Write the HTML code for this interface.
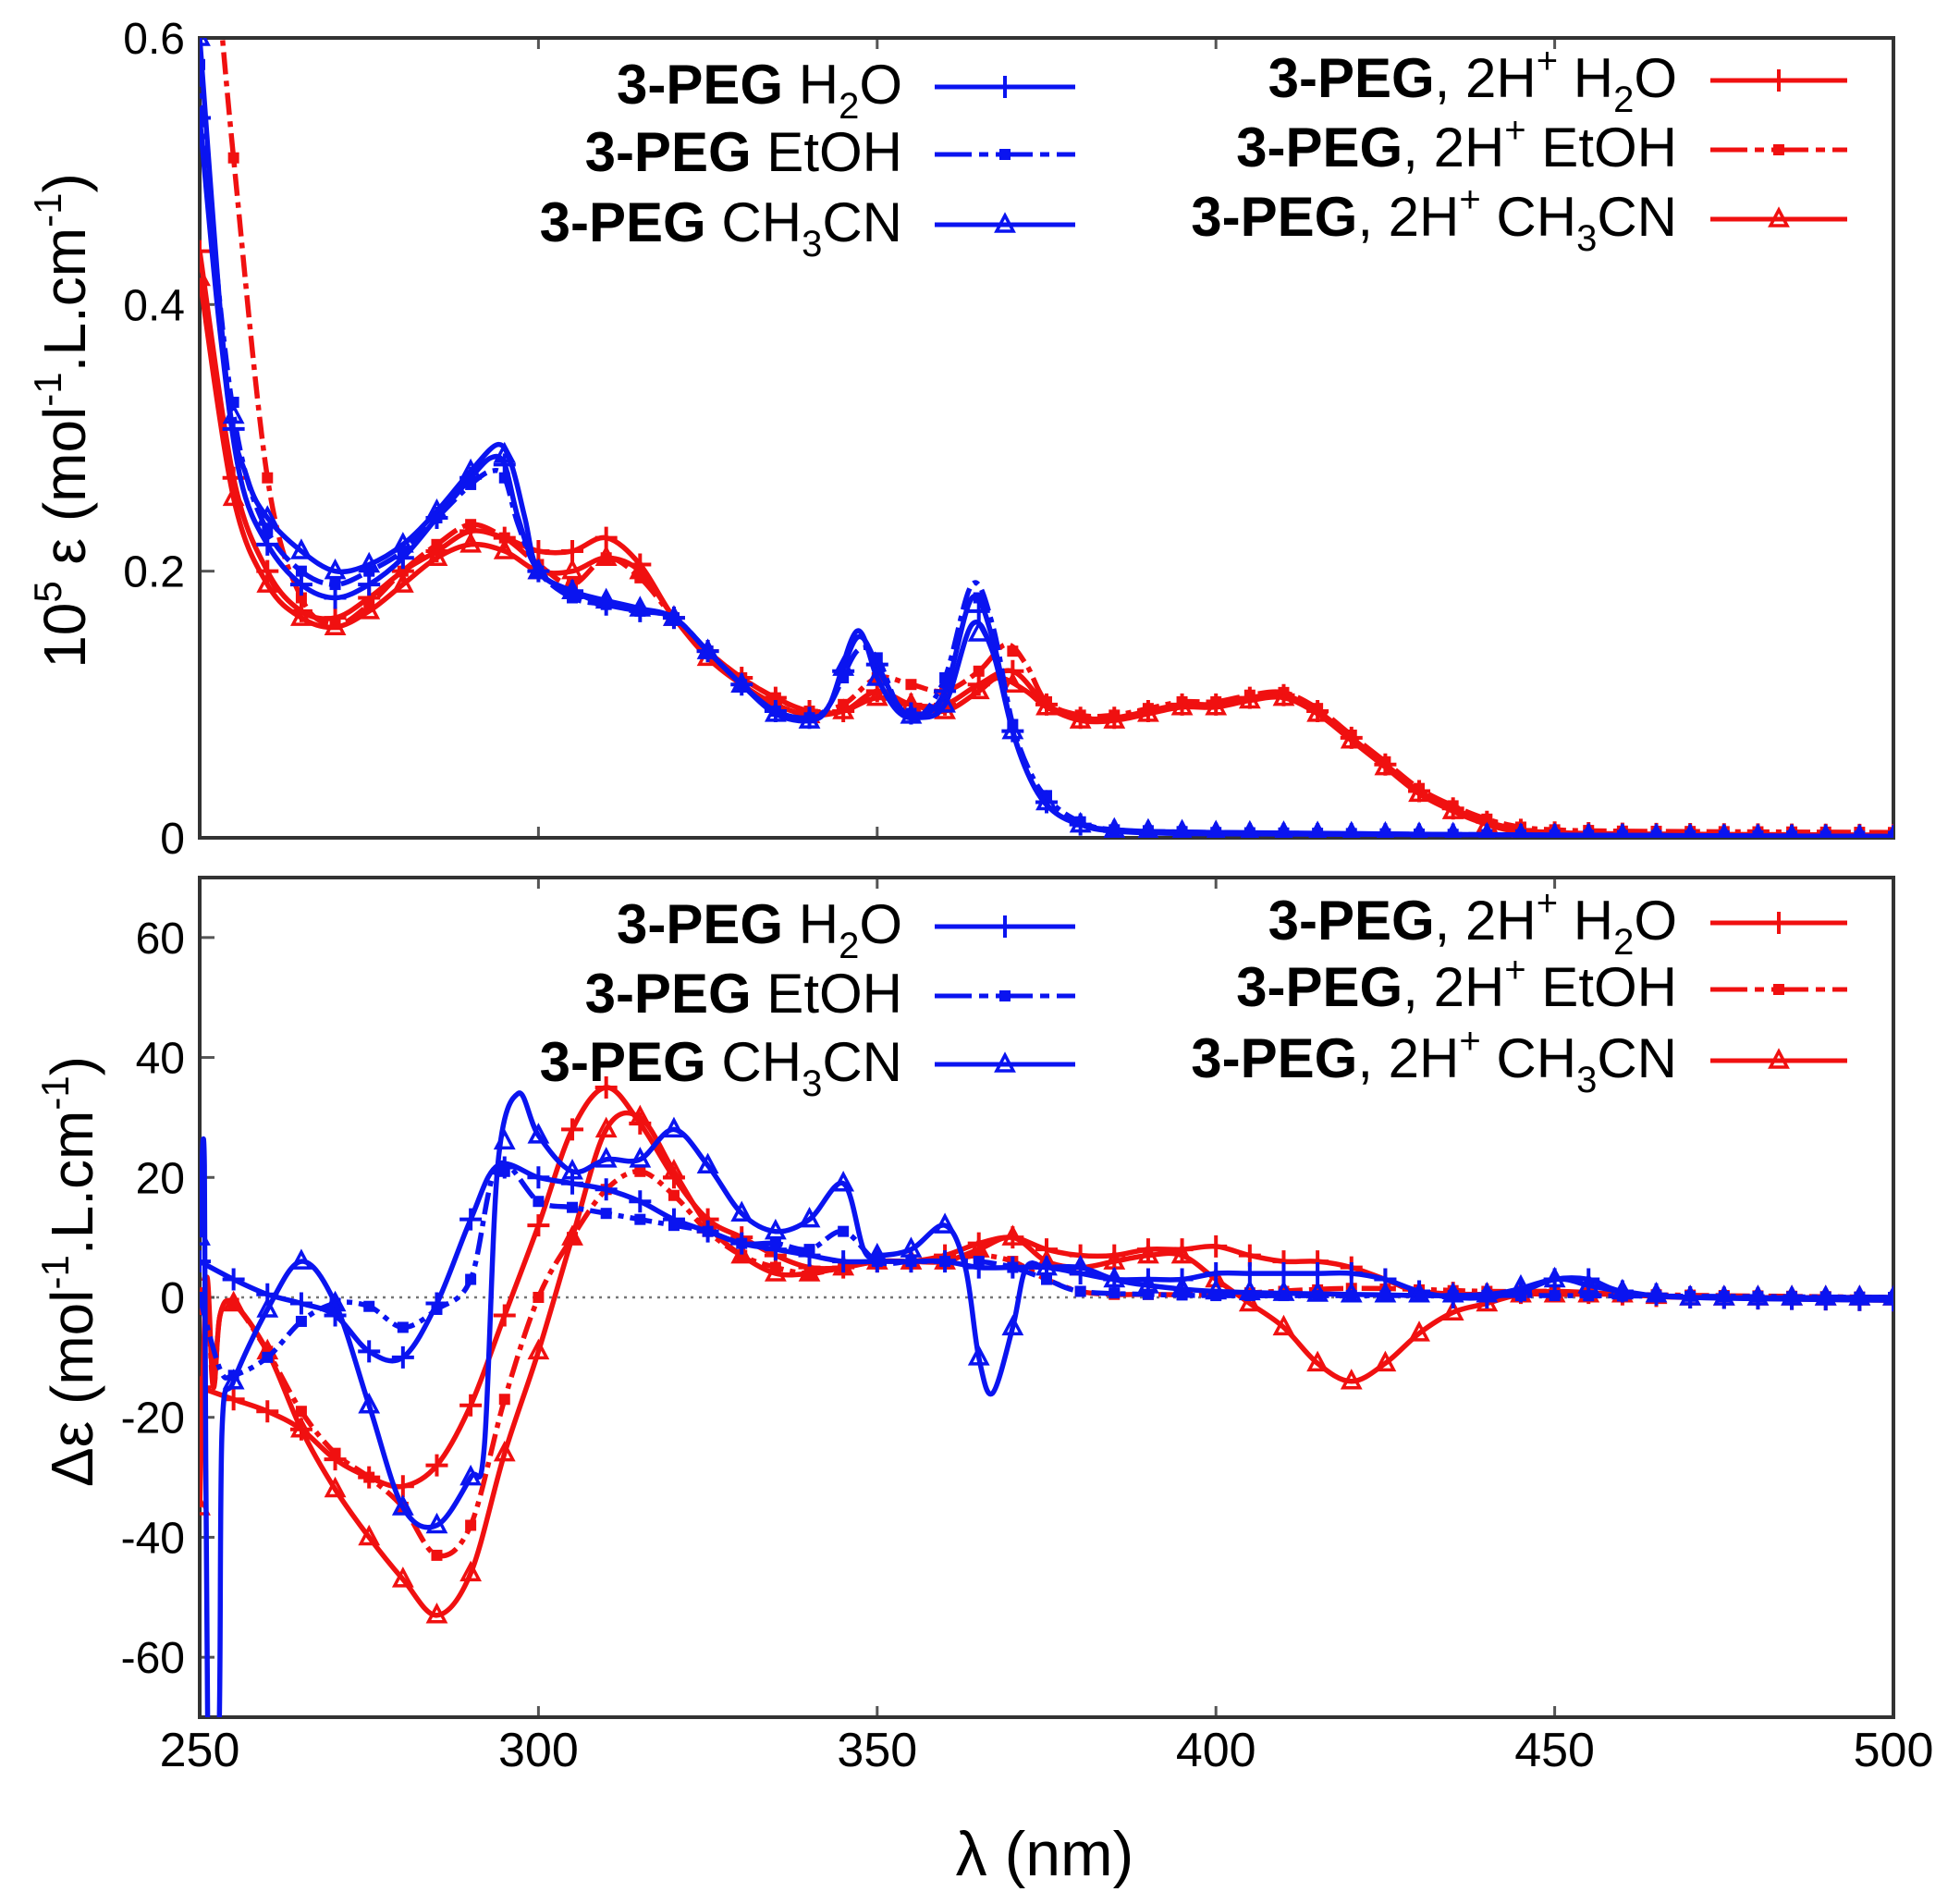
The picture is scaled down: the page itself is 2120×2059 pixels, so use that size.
<!DOCTYPE html>
<html><head><meta charset="utf-8"><style>
html,body{margin:0;padding:0;background:#fff}
svg{display:block}
text{font-family:"Liberation Sans",sans-serif;fill:#000}
</style></head><body>
<svg id="s" width="2120" height="2059" viewBox="0 0 2120 2059" xmlns="http://www.w3.org/2000/svg">
<defs>
<clipPath id="c1"><rect x="216" y="41" width="1832" height="865"/></clipPath>
<clipPath id="c2"><rect x="216" y="949" width="1832" height="908"/></clipPath>
</defs>
<g id="axes"></g>
<g id="series"></g>
<g id="legend" font-size="60"></g>
<text x="1130" y="2028" font-size="68" text-anchor="middle">λ  (nm)</text>
<text transform="translate(92,455) rotate(-90)" font-size="64" text-anchor="middle">10<tspan font-size="42" dy="-26">5</tspan><tspan dy="26"> ε (mol</tspan><tspan font-size="42" dy="-26">-1</tspan><tspan dy="26">.L.cm</tspan><tspan font-size="42" dy="-26">-1</tspan><tspan dy="26">)</tspan></text>
<text transform="translate(100,1375) rotate(-90)" font-size="64" text-anchor="middle">Δε (mol<tspan font-size="42" dy="-26">-1</tspan><tspan dy="26">.L.cm</tspan><tspan font-size="42" dy="-26">-1</tspan><tspan dy="26">)</tspan></text>
</svg>
<script>
const NS="http://www.w3.org/2000/svg";
function el(p,t,a,txt){const e=document.createElementNS(NS,t);for(const k in a)e.setAttribute(k,a[k]);if(txt!==undefined)e.textContent=txt;p.appendChild(e);return e;}
const X=l=>216+(l-250)*7.328;
const Y1=v=>906-v*1441.7;
const Y2=v=>1403-v*6.486;
const ax=document.getElementById('axes');
[[41,906],[949,1857]].forEach(([t,b])=>{
 for(let l=300;l<500;l+=50){el(ax,'line',{x1:X(l),x2:X(l),y1:b,y2:b-12,stroke:'#555','stroke-width':3});el(ax,'line',{x1:X(l),x2:X(l),y1:t,y2:t+12,stroke:'#555','stroke-width':3});}
});
[[0,'0'],[0.2,'0.2'],[0.4,'0.4'],[0.6,'0.6']].forEach(([v,s])=>{const y=Y1(v);el(ax,'line',{x1:216,x2:232,y1:y,y2:y,stroke:'#555','stroke-width':3});el(ax,'text',{x:200,y:y+17,'font-size':48,'text-anchor':'end'},s);});
[[60,'60'],[40,'40'],[20,'20'],[0,'0'],[-20,'-20'],[-40,'-40'],[-60,'-60']].forEach(([v,s])=>{const y=Y2(v);el(ax,'line',{x1:216,x2:232,y1:y,y2:y,stroke:'#555','stroke-width':3});el(ax,'text',{x:200,y:y+17,'font-size':48,'text-anchor':'end'},s);});
for(let l=250;l<=500;l+=50)el(ax,'text',{x:X(l),y:1910,'font-size':52,'text-anchor':'middle'},String(l));
el(ax,'line',{x1:216,x2:2048,y1:Y1(0),y2:Y1(0),stroke:'#333','stroke-width':3,'stroke-dasharray':'3,3'});
el(ax,'line',{x1:216,x2:2048,y1:Y2(0),y2:Y2(0),stroke:'#777','stroke-width':2.5,'stroke-dasharray':'3,6'});
el(ax,'rect',{x:216,y:41,width:1832,height:865,fill:'none',stroke:'#333','stroke-width':4});
el(ax,'rect',{x:216,y:949,width:1832,height:908,fill:'none',stroke:'#333','stroke-width':4});

const T={
bH:[[250,0.54],[253,0.38],[256,0.27],[260,0.22],[265,0.19],[270,0.18],[275,0.19],[280,0.21],[285,0.24],[290,0.27],[293,0.285],[295,0.28],[297,0.24],[300,0.2],[305,0.185],[310,0.175],[315,0.17],[320,0.165],[325,0.14],[330,0.115],[335,0.095],[340,0.09],[343,0.1],[347,0.15],[350,0.13],[353,0.1],[356,0.09],[360,0.11],[364,0.18],[367,0.15],[370,0.08],[373,0.04],[376,0.02],[380,0.01],[385,0.005],[400,0.003],[450,0.002],[500,0.001]],
bE:[[250,0.58],[253,0.4],[256,0.29],[260,0.23],[265,0.2],[270,0.19],[275,0.2],[280,0.215],[285,0.24],[290,0.265],[293,0.275],[295,0.27],[297,0.235],[300,0.2],[305,0.18],[310,0.175],[315,0.17],[320,0.165],[325,0.14],[330,0.115],[335,0.095],[340,0.09],[343,0.1],[347,0.14],[350,0.135],[353,0.1],[356,0.09],[360,0.12],[364,0.19],[367,0.16],[370,0.085],[373,0.045],[376,0.025],[380,0.012],[385,0.006],[400,0.004],[450,0.002],[500,0.001]],
bC:[[250,0.6],[254,0.34],[257,0.27],[260,0.24],[265,0.215],[270,0.2],[275,0.205],[280,0.22],[285,0.245],[290,0.275],[294,0.295],[296,0.28],[298,0.24],[300,0.2],[305,0.185],[310,0.178],[315,0.172],[320,0.165],[325,0.14],[330,0.115],[335,0.093],[340,0.088],[343,0.1],[347,0.155],[350,0.12],[353,0.095],[356,0.09],[360,0.1],[364,0.16],[367,0.14],[370,0.08],[373,0.04],[376,0.02],[380,0.01],[385,0.006],[400,0.004],[450,0.002],[500,0.001]]
};
const rTail=[[375,0.1],[380,0.09],[385,0.09],[390,0.095],[395,0.1],[400,0.1],[405,0.105],[410,0.107],[415,0.095],[420,0.075],[425,0.055],[430,0.035],[435,0.022],[440,0.012],[445,0.006],[450,0.004],[460,0.003],[500,0.002]];
T.rH=[[250,0.44],[255,0.27],[260,0.2],[265,0.17],[270,0.165],[275,0.18],[280,0.2],[285,0.215],[290,0.23],[295,0.225],[300,0.215],[305,0.215],[310,0.225],[315,0.205],[320,0.165],[325,0.14],[330,0.12],[335,0.105],[340,0.095],[345,0.095],[350,0.11],[355,0.1],[360,0.1],[365,0.115],[370,0.125]].concat(rTail);
T.rE=[[252.5,0.65],[255,0.51],[260,0.27],[265,0.18],[270,0.16],[275,0.175],[280,0.2],[285,0.22],[290,0.235],[295,0.225],[300,0.205],[305,0.19],[310,0.21],[315,0.195],[320,0.165],[325,0.14],[330,0.12],[335,0.105],[340,0.095],[345,0.1],[350,0.12],[355,0.115],[360,0.11],[365,0.125],[369,0.145],[372,0.13]].concat(rTail.map(p=>[p[0],p[1]+0.002]));
T.rC=[[250,0.42],[255,0.255],[260,0.19],[265,0.165],[270,0.158],[275,0.17],[280,0.19],[285,0.21],[290,0.22],[295,0.215],[300,0.2],[305,0.2],[310,0.21],[315,0.2],[320,0.165],[325,0.135],[330,0.115],[335,0.1],[340,0.092],[345,0.095],[350,0.105],[355,0.1],[360,0.095],[365,0.11],[368,0.12],[372,0.11]].concat(rTail.map(p=>[p[0],p[1]-0.002]));
const B={
bH:[[250,6],[255,3],[260,0.5],[265,-1],[270,-3],[275,-9],[280,-10],[285,-1],[290,13],[294,22],[300,20],[305,19],[310,18],[315,16],[320,13],[325,11],[330,9],[335,8],[340,7],[345,6],[350,6],[355,6],[360,6],[365,5],[370,5],[375,5],[380,4],[385,3],[390,3],[395,3],[400,4],[405,4],[410,4],[415,4],[420,4],[425,3],[430,1],[435,0],[440,0],[445,1],[450,3],[455,3],[460,1],[470,0],[500,-0.5]],
bE:[[250,0],[253,-12],[255,-13],[260,-10],[265,-4],[270,-1],[275,-1.5],[280,-5],[285,-2],[290,3],[294,22],[300,16],[305,15],[310,14],[315,13],[320,12],[325,11],[330,9],[335,9],[340,8],[345,11],[350,6],[355,6],[360,6],[365,6],[370,5],[375,3],[380,1],[390,0.5],[400,0.3],[420,0.3],[450,0.3],[500,0]],
bC:[[250,10],[250.7,22],[251.2,-75],[252.8,-75],[253.3,-22],[255,-14],[260,-2],[265,6],[270,-1],[275,-18],[280,-35],[285,-38],[290,-30],[292,-25],[294,22],[297,34],[300,27],[305,21],[310,23],[315,23],[320,28],[325,22],[330,14],[335,11],[340,13],[345,19],[348,8],[350,7],[355,8],[360,12],[363,5],[365,-10],[367,-16],[370,-5],[372,5],[375,5],[380,5],[385,3],[390,2],[400,1],[420,0.5],[440,0.5],[450,3],[455,2],[460,1],[470,0],[500,0]],
rH:[[250,-15],[255,-17],[260,-19],[265,-22],[270,-27],[275,-30],[280,-31.5],[285,-28],[290,-18],[295,-3],[300,12],[305,28],[310,35],[315,29],[320,20],[325,13],[330,10],[335,7],[340,5],[345,5],[350,6],[355,6],[360,7],[365,9],[370,10],[375,8],[380,7],[385,7],[390,8],[395,8],[400,8.5],[405,7],[410,6],[415,6],[420,5],[425,3],[430,1],[440,0.5],[450,1],[460,0.5],[470,0],[500,-0.5]],
rE:[[250,-2],[251,3],[252,-15],[253,-3],[255,-1],[260,-9],[265,-19],[270,-26],[275,-30],[280,-35],[285,-43],[290,-38],[295,-17],[300,0],[305,10],[310,18],[315,21],[320,17],[325,11],[330,7],[335,5],[340,4],[345,5],[350,6],[355,6],[360,6],[365,7],[370,6],[375,3],[380,1],[385,0.5],[390,0.5],[400,0.5],[420,1.5],[440,1],[450,1],[460,0.5],[500,0]],
rC:[[250,-35],[251,3],[252,-15],[253,-3],[255,-1],[260,-9],[265,-22],[270,-32],[275,-40],[280,-47],[285,-53],[290,-46],[295,-26],[300,-9],[305,10],[310,28],[315,30],[320,21],[325,12],[330,7],[335,4],[340,4],[345,5],[350,6],[355,6],[360,6],[365,8],[370,10],[375,6],[380,5],[385,6],[390,7],[395,7],[400,3],[405,-1],[410,-5],[415,-11],[420,-14],[425,-11],[430,-6],[435,-2.5],[440,-1],[445,0.5],[450,0.5],[460,0.5],[470,0],[500,0]]
};
function interp(d,l){for(let i=0;i<d.length-1;i++){if(l>=d[i][0]&&l<=d[i+1][0]){const t=(l-d[i][0])/(d[i+1][0]-d[i][0]);return d[i][1]+t*(d[i+1][1]-d[i][1]);}}return null;}
function path(pts){let s=`M${pts[0][0].toFixed(1)},${pts[0][1].toFixed(1)}`;for(let i=0;i<pts.length-1;i++){const p0=pts[Math.max(0,i-1)],p1=pts[i],p2=pts[i+1],p3=pts[Math.min(pts.length-1,i+2)];const c1=[p1[0]+(p2[0]-p0[0])/6,p1[1]+(p2[1]-p0[1])/6],c2=[p2[0]-(p3[0]-p1[0])/6,p2[1]-(p3[1]-p1[1])/6];s+=`C${c1[0].toFixed(1)},${c1[1].toFixed(1)} ${c2[0].toFixed(1)},${c2[1].toFixed(1)} ${p2[0].toFixed(1)},${p2[1].toFixed(1)}`;}return s;}
function marker(g,type,x,y,col){
 if(type==='p'){el(g,'path',{d:`M${x-12},${y}H${x+12}M${x},${y-12}V${y+12}`,stroke:col,'stroke-width':4,fill:'none'});}
 else if(type==='s'){el(g,'rect',{x:x-6,y:y-6,width:12,height:12,fill:col});}
 else {el(g,'path',{d:`M${x},${y-10}L${x+9},${y+7}L${x-9},${y+7}Z`,stroke:col,'stroke-width':3.5,fill:'none'});}
}
const sg=document.getElementById('series');
const cols={b:'#0a14f0',r:'#f01010'};
function draw(data,Yf,clip){
 const g=el(sg,'g',{'clip-path':`url(#${clip})`});
 ['rH','rE','rC','bH','bE','bC'].forEach(k=>{
  const d=data[k],col=cols[k[0]];
  const pts=d.map(p=>[X(p[0]),Yf(p[1])]);
  const a={d:path(pts),stroke:col,'stroke-width':5.5,fill:'none','stroke-linejoin':'round'};
  if(k[1]==='E')a['stroke-dasharray']='24,7,6,7';
  el(g,'path',a);
  const mt=k[1]==='H'?'p':(k[1]==='E'?'s':'t');
  for(let l=250;l<=500;l+=5){const v=interp(d,l);if(v===null)continue;marker(g,mt,X(l),Yf(v),col);}
 });
}
draw(T,Y1,'c1');draw(B,Y2,'c2');
const lg=document.getElementById('legend');
function leg(x,y,html,col,type,lx1,lx2){
 const t=el(lg,'text',{x:x,y:y,'text-anchor':'end'});t.innerHTML=html;
 const a={x1:lx1,x2:lx2,y1:y-18,y2:y-18,stroke:col,'stroke-width':5};
 if(type==='s')a['stroke-dasharray']='40,8,10,8';
 el(lg,'line',a);marker(lg,type,(lx1+lx2)/2,y-18,col);
}
const B3='<tspan font-weight="bold">3-PEG</tspan>';
const sub=n=>`<tspan font-size="40" dy="16">${n}</tspan><tspan dy="-16">`;
const sup=n=>`<tspan font-size="40" dy="-26">${n}</tspan><tspan dy="26">`;
function legs(yl,yr){
 leg(976,yl[0],B3+' H'+sub('2')+'O</tspan>',cols.b,'p',1011,1163);
 leg(976,yl[1],B3+' EtOH',cols.b,'s',1011,1163);
 leg(976,yl[2],B3+' CH'+sub('3')+'CN</tspan>',cols.b,'t',1011,1163);
 leg(1814,yr[0],B3+', 2H'+sup('+')+' H</tspan>'+sub('2')+'O</tspan>',cols.r,'p',1850,1998);
 leg(1814,yr[1],B3+', 2H'+sup('+')+'  EtOH</tspan>',cols.r,'s',1850,1998);
 leg(1814,yr[2],B3+', 2H'+sup('+')+' CH</tspan>'+sub('3')+'CN</tspan>',cols.r,'t',1850,1998);
}
legs([112,185,261],[105,180,255]);
legs([1020,1095,1169],[1016,1088,1165]);
</script>
</body></html>
